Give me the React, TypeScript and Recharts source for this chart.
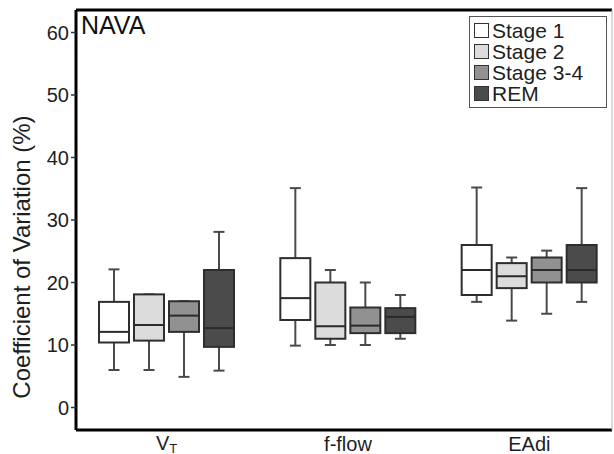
import React from 'react';
import { ComposedChart, Bar, XAxis, YAxis, ReferenceLine, Legend } from 'recharts';

// categories (x groups)
const categories = ['VT', 'f-flow', 'EAdi'];
// series names
const seriesNames = ['Stage 1', 'Stage 2', 'Stage 3-4', 'REM'];
const seriesKeys = ['s1', 's2', 's34', 'rem'];
const seriesColors = ['#ffffff', '#dcdcdc', '#919191', '#4b4b4b'];
// [min, q1, median, q3, max] per category
const stage1 = [
  [6, 10.4, 12.1, 16.9, 22.1],
  [9.9, 14, 17.5, 23.9, 35.1],
  [16.9, 18, 22, 26, 35.2],
];
const stage2 = [
  [6, 10.7, 13.2, 18.1, 18.1],
  [10, 11, 13, 20, 22],
  [13.9, 19.1, 21, 23.1, 24],
];
const stage34 = [
  [4.9, 12.1, 14.7, 17, 17],
  [10, 11.9, 13.1, 16, 20],
  [15, 20, 22, 24, 25.1],
];
const rem = [
  [5.9, 9.7, 12.7, 22, 28.1],
  [11, 11.9, 14.5, 15.9, 18],
  [16.9, 20, 22, 26, 35.1],
];
const yTicks = [0, 10, 20, 30, 40, 50, 60];
const yDomain = [-3.6, 63.6];

const allSeries = [stage1, stage2, stage34, rem];

const data = categories.map((cat, i) => {
  const row: any = { cat };
  seriesKeys.forEach((k, s) => {
    const [min, q1, med, q3, max] = allSeries[s][i];
    row[k] = { min, q1, med, q3, max };
  });
  return row;
});

const FONT = '"Liberation Sans", Arial, Helvetica, sans-serif';

const BoxShape = (props: any) => {
  const { x, y, width, height, payload, skey, color } = props;
  const st = payload[skey];
  const span = st.max - st.min;
  const py = (v: number) => y + ((st.max - v) / span) * height;
  const cx = x + width / 2;
  const cap = 5.5;
  const yMax = py(st.max);
  const yQ3 = py(st.q3);
  const yMed = py(st.med);
  const yQ1 = py(st.q1);
  const yMin = py(st.min);
  const wc = '#4a4a4a';
  return (
    <g>
      <line x1={cx} x2={cx} y1={yMax} y2={yQ3} stroke={wc} strokeWidth={2} />
      <line x1={cx} x2={cx} y1={yQ1} y2={yMin} stroke={wc} strokeWidth={2} />
      <line x1={cx - cap} x2={cx + cap} y1={yMax} y2={yMax} stroke={wc} strokeWidth={2} />
      <line x1={cx - cap} x2={cx + cap} y1={yMin} y2={yMin} stroke={wc} strokeWidth={2} />
      <rect x={x} y={yQ3} width={width} height={yQ1 - yQ3} fill={color} stroke="#2e2e2e" strokeWidth={2} />
      <line x1={x} x2={x + width} y1={yMed} y2={yMed} stroke="#2a2a2a" strokeWidth={2} />
    </g>
  );
};

const XTick = (props: any) => {
  const { x, y, payload } = props;
  if (payload.value === 'VT') {
    return (
      <text x={x} y={y + 18} textAnchor="middle" fontSize={20} fill="#1e1e1e" fontFamily={FONT}>
        V<tspan fontSize={13} dy={3}>T</tspan>
      </text>
    );
  }
  return (
    <text x={x} y={y + 19} textAnchor="middle" fontSize={20} fill="#1e1e1e" fontFamily={FONT}>
      {payload.value}
    </text>
  );
};

const YLabel = (props: any) => {
  const { viewBox } = props;
  const cx = 21.5;
  const cy = viewBox.y + viewBox.height / 2 + 37;
  return (
    <text
      x={cx}
      y={cy}
      transform={`rotate(-90, ${cx}, ${cy})`}
      textAnchor="middle"
      dominantBaseline="central"
      fontSize={24}
      fill="#1e1e1e"
      fontFamily={FONT}
    >
      Coefficient of Variation (%)
    </text>
  );
};

const LegendBox = () => (
  <div
    style={{
      border: '1.5px solid #555',
      background: '#fff',
      padding: '3px 2px 3px 4px',
      fontFamily: FONT,
      fontSize: 21,
      color: '#1e1e1e',
      boxSizing: 'border-box',
      width: 138,
    }}
  >
    {seriesNames.map((n, i) => (
      <div key={n} style={{ display: 'flex', alignItems: 'center', height: 21, whiteSpace: 'nowrap' }}>
        <span
          style={{
            display: 'inline-block',
            width: 15,
            height: 15,
            background: seriesColors[i],
            border: '1.5px solid #333',
            marginRight: 3,
            boxSizing: 'border-box',
            flex: 'none',
          }}
        />
        <span style={{ lineHeight: '21px' }}>{n}</span>
      </div>
    ))}
  </div>
);

export default function App() {
  return (
    <div style={{ position: 'absolute', left: 0, top: 0, width: 614, height: 454, background: '#fff', fontFamily: FONT }}>
      <ComposedChart
        width={614}
        height={454}
        data={data}
        margin={{ top: 10, right: 1, bottom: 0, left: 0 }}
        barSize={30}
        barGap={5}
        style={{ fontFamily: FONT }}
      >
        <XAxis
          dataKey="cat"
          height={24}
          tick={<XTick />}
          tickLine={false}
          tickSize={0}
          axisLine={{ stroke: '#000', strokeWidth: 3 }}
          padding={{ left: 0, right: -8 }}
          interval={0}
        />
        <YAxis
          domain={yDomain}
          ticks={yTicks}
          allowDataOverflow
          width={76}
          tick={{ fontSize: 20, fill: '#1e1e1e', fontFamily: FONT }}
          tickSize={5}
          tickMargin={2}
          tickLine={{ stroke: '#333', strokeWidth: 1.5 }}
          axisLine={{ stroke: '#000', strokeWidth: 3 }}
          label={<YLabel />}
        />
        <YAxis
          yAxisId="r"
          orientation="right"
          domain={yDomain}
          width={1}
          tick={false}
          tickLine={false}
          axisLine={{ stroke: '#b5b5b5', strokeWidth: 1 }}
        />
        <ReferenceLine y={yDomain[1]} stroke="#000" strokeWidth={3} />
        {seriesKeys.map((k, s) => (
          <Bar
            key={k}
            name={seriesNames[s]}
            dataKey={(row: any) => [row[k].min, row[k].max]}
            fill={seriesColors[s]}
            isAnimationActive={false}
            shape={(p: any) => <BoxShape {...p} skey={k} color={seriesColors[s]} />}
          />
        ))}
        <Legend
          layout="horizontal"
          verticalAlign="middle"
          align="center"
          content={() => <LegendBox />}
          wrapperStyle={{ position: 'absolute', left: 469, top: 16, width: 138, height: 'auto' }}
        />
      </ComposedChart>
      <div
        style={{
          position: 'absolute',
          left: 81,
          top: 11,
          fontSize: 25,
          lineHeight: '28px',
          color: '#111',
          fontFamily: FONT,
        }}
      >
        NAVA
      </div>
    </div>
  );
}
